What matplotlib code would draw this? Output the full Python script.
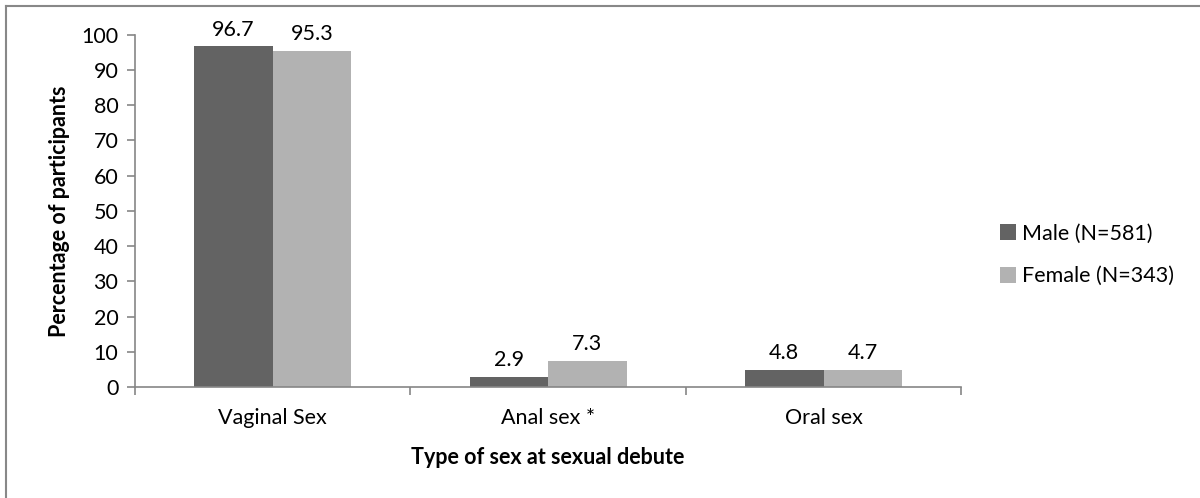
import numpy as np
import matplotlib.pyplot as plt
from matplotlib.lines import Line2D

categories = ['Vaginal Sex', 'Anal sex *', 'Oral sex']
male = [96.7, 2.9, 4.8]
female = [95.3, 7.3, 4.7]
series_names = ['Male (N=581)', 'Female (N=343)']
colors = ['#636363', '#b2b2b2']

plt.rcParams['font.family'] = ['Lato', 'DejaVu Sans']
fs = 15.5

fig = plt.figure(figsize=(12, 4.98), dpi=100)
ax = fig.add_axes([0.1125, 0.223, 0.6885, 0.707])

x = np.arange(len(categories))
w = 0.285
b1 = ax.bar(x - w / 2, male, w, color=colors[0], label=series_names[0])
b2 = ax.bar(x + w / 2, female, w, color=colors[1], label=series_names[1])

for bars, vals in [(b1, male), (b2, female)]:
    for bar, v in zip(bars, vals):
        ax.annotate(f'{v:.1f}', (bar.get_x() + bar.get_width() / 2, v),
                    xytext=(0, 5), textcoords='offset points',
                    ha='center', va='bottom', fontsize=fs, color='black')

ax.set_xlim(-0.5, len(categories) - 0.5)
ax.set_ylim(0, 100)
ax.set_yticks(np.arange(0, 101, 10))
ax.set_xticks(x)
ax.set_xticklabels(categories, fontsize=fs)
ax.set_xticks(np.arange(-0.5, len(categories), 1), minor=True)
ax.tick_params(axis='x', which='major', length=0, pad=15)
ax.tick_params(axis='x', which='minor', length=6, width=1.2, color='#868686', direction='out')
ax.tick_params(axis='y', length=6, width=1.2, color='#868686', labelsize=fs, pad=6)

for s in ['top', 'right']:
    ax.spines[s].set_visible(False)
for s in ['left', 'bottom']:
    ax.spines[s].set_color('#868686')
    ax.spines[s].set_linewidth(1.2)

ax.set_ylabel('Percentage of participants', fontsize=fs, fontweight='bold', labelpad=8)
ax.set_xlabel('Type of sex at sexual debute', fontsize=fs, fontweight='bold', labelpad=14)

fig.legend(handles=[b1, b2], loc='center left', bbox_to_anchor=(0.833, 0.488), frameon=False,
           fontsize=fs, handlelength=0.75, handleheight=0.75, handletextpad=0.3,
           labelspacing=1.05, borderaxespad=0, borderpad=0)

# outer chart border (only left and top visible in the crop)
fig.add_artist(Line2D([5.5 / 1200, 5.5 / 1200], [0, 1 - 6.5 / 498], transform=fig.transFigure,
                      color='#888888', lw=1.5))
fig.add_artist(Line2D([5.5 / 1200, 1], [1 - 6.5 / 498, 1 - 6.5 / 498], transform=fig.transFigure,
                      color='#888888', lw=1.5))

fig.savefig('out.png', dpi=100)
